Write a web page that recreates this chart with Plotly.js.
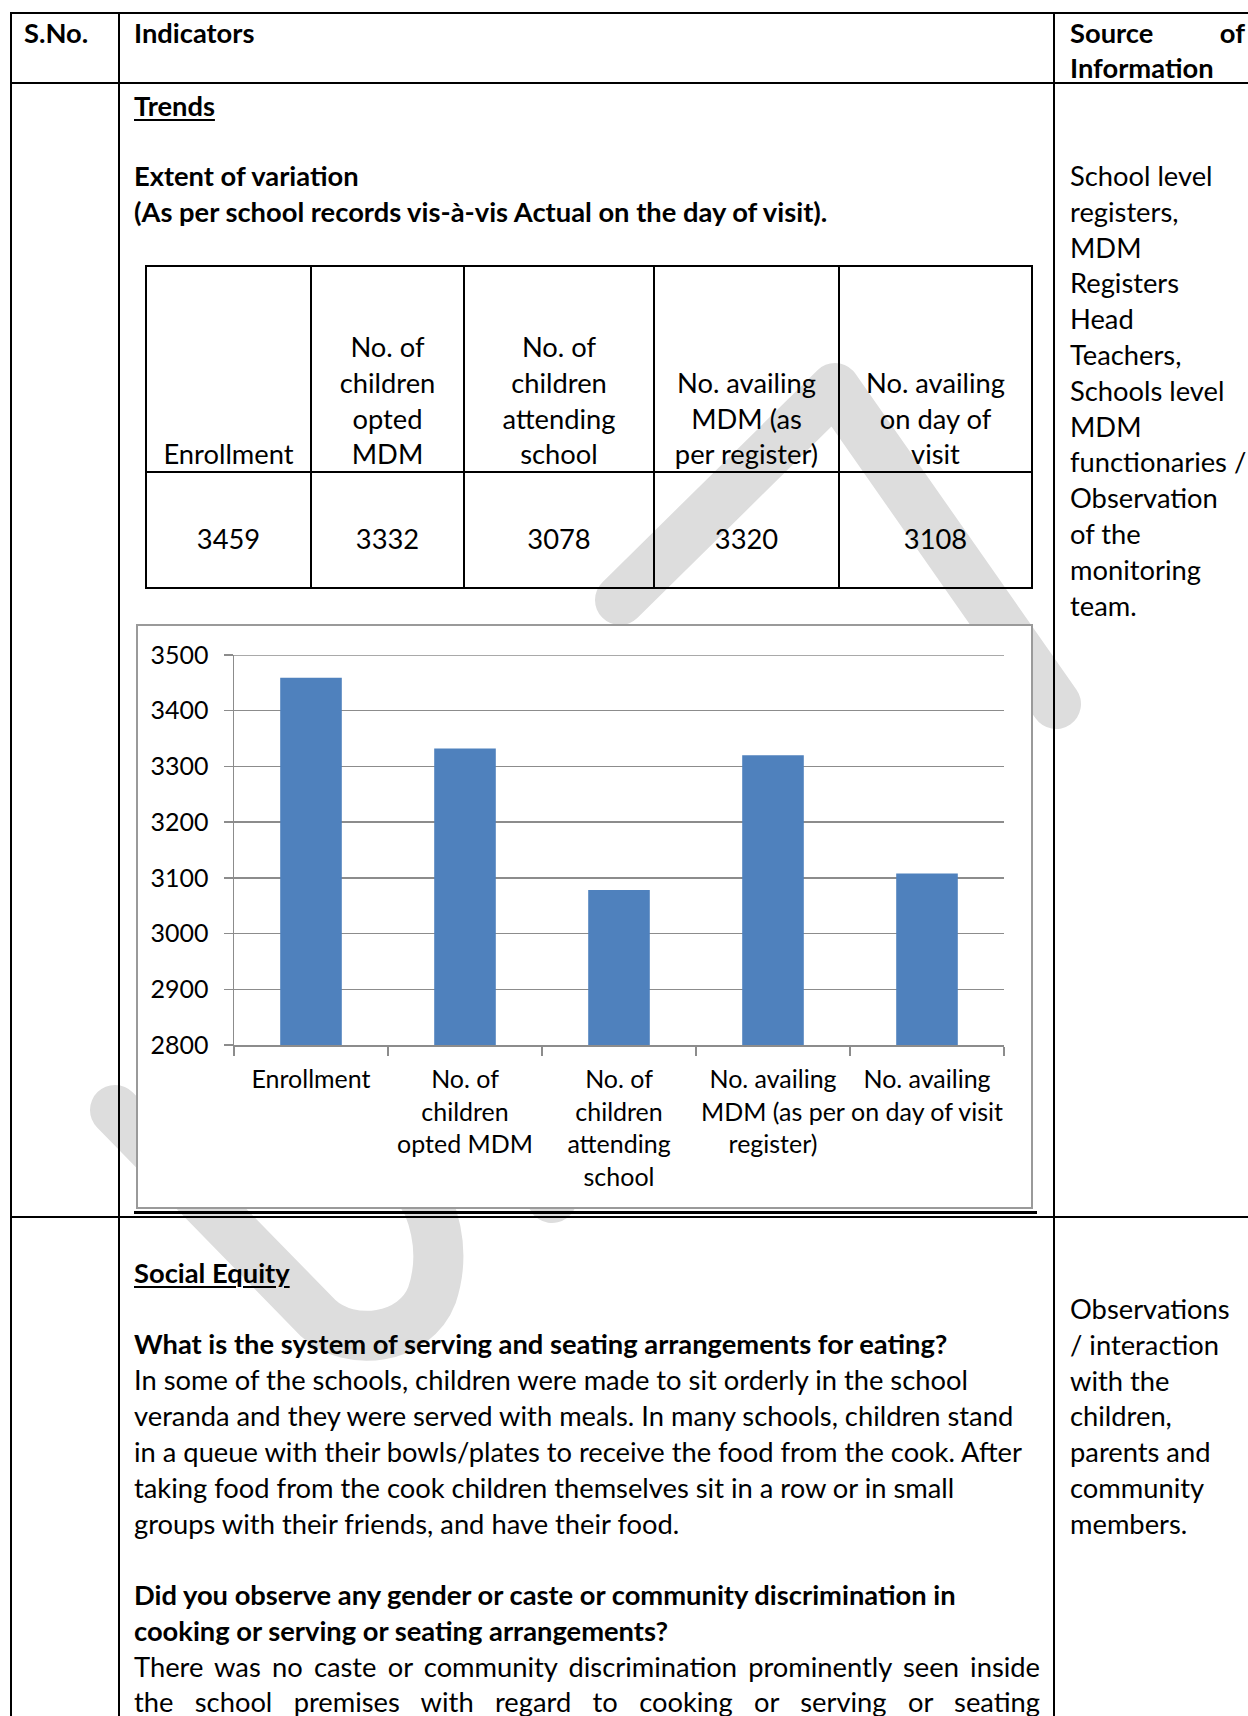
<!DOCTYPE html>
<html><head><meta charset="utf-8">
<script src="https://cdn.plot.ly/plotly-3.0.1.min.js"></script>
<style>
html,body{margin:0;padding:0;background:#fff;}
body{width:1248px;height:1716px;position:relative;overflow:hidden;font-family:Lato,"Open Sans",sans-serif;color:#000;}
.ln{position:absolute;white-space:nowrap;line-height:36px;height:36px;}
.b{font-weight:bold;}
.u{text-decoration:underline;text-decoration-thickness:2px;text-underline-offset:3px;}
.r{position:absolute;background:#000;}
#wm{position:absolute;left:0;top:0;}
#chartbox{position:absolute;left:136px;top:624px;width:897px;height:585px;box-sizing:border-box;border:2px solid #9a9a9a;background:#fff;}
</style></head><body>
<svg id="wm" width="1248" height="1716" viewBox="0 0 1248 1716">
  <g fill="none" stroke="#dddddd" stroke-width="50" stroke-linecap="round" stroke-linejoin="round">
    <path d="M 620 600 L 835 388 L 1056 704"/>
    <path d="M 115 1110 L 318 1318 C 350 1348 415 1340 432 1295 C 442 1265 440 1235 428 1205 L 410 1175"/>
    <path d="M 552 1198 L 600 1120"/>
  </g>
</svg>
<div id="chartbox"><div id="chart"></div></div>
<script>
// ---- chart data ----
const categories = ["Enrollment", "No. of<br>children<br>opted MDM", "No. of<br>children<br>attending<br>school", "No. availing<br>MDM (as per<br>register)", "No. availing<br>on day of visit"];
const values = [3459, 3332, 3078, 3320, 3108];
const tableHeaders = [["Enrollment"], ["No. of", "children", "opted", "MDM"], ["No. of", "children", "attending", "school"], ["No. availing", "MDM (as", "per register)"], ["No. availing", "on day of", "visit"]];
const yTickValues = [2800, 2900, 3000, 3100, 3200, 3300, 3400, 3500];
const yRange = [2800, 3500];

// ---- font sizing ----
const ctx = document.createElement('canvas').getContext('2d');
function mw(t, f){ ctx.font = f; return ctx.measureText(t).width; }
const FS = 100 * 836 / mw("In some of the schools, children were made to sit orderly in the school", "100px Lato");
const CF = 100 * 119 / mw("Enrollment", "100px Lato");
document.body.style.fontSize = FS.toFixed(2) + 'px';

function R(x, y, w, h){ const d = document.createElement('div'); d.className = 'r'; d.style.left = x+'px'; d.style.top = y+'px'; d.style.width = w+'px'; d.style.height = h+'px'; document.body.appendChild(d); }
function L(text, x, cy, cls, w, align){
  const d = document.createElement('div'); d.className = 'ln ' + (cls || '');
  d.textContent = text; d.style.left = x+'px'; d.style.top = (cy-18)+'px';
  if (w){ d.style.width = w+'px'; d.style.textAlign = align || 'left'; if (align === 'justify') d.style.textAlignLast = 'justify'; }
  document.body.appendChild(d);
}

// outer table lines
R(10, 12, 1238, 2);
R(10, 12, 2, 1704);
R(118, 12, 2, 1704);
R(1053, 12, 2, 1704);
R(10, 82, 1238, 2);
R(10, 1216, 1238, 2);
R(134, 1211, 903, 3);

// header row
L("S.No.", 24, 33, 'b');
L("Indicators", 134, 33, 'b');
L("Source of", 1070, 33, 'b', 175, 'justify');
L("Information", 1070, 68, 'b');

// trends block
L("Trends", 134, 106, 'b u');
L("Extent of variation", 134, 176, 'b');
L("(As per school records vis-à-vis Actual on the day of visit).", 134, 212, 'b');
const src1 = ["School level", "registers,", "MDM", "Registers", "Head", "Teachers,", "Schools level", "MDM", "functionaries /", "Observation", "of the", "monitoring", "team."];
src1.forEach((t, i) => L(t, 1070, 176 + i*35.8));

// inner table
const cellX = [146, 311, 464, 654, 839, 1032];
R(146, 265, 886, 2); R(146, 471, 886, 2); R(146, 587, 886, 2);
cellX.forEach(x => R(x-1, 265, 2, 324));
const hdrCY = [347, 383, 419, 454];
tableHeaders.forEach((lines, c) => {
  const off = 4 - lines.length;
  lines.forEach((t, i) => L(t, cellX[c], hdrCY[off+i], '', cellX[c+1]-cellX[c], 'center'));
  L(String(values[c]), cellX[c], 539, '', cellX[c+1]-cellX[c], 'center');
});

// social equity block
L("Social Equity", 134, 1273, 'b u');
L("What is the system of serving and seating arrangements for eating?", 134, 1344, 'b');
const p1 = ["In some of the schools, children were made to sit orderly in the school",
  "veranda and they were served with meals. In many schools, children stand",
  "in a queue with their bowls/plates to receive the food from the cook. After",
  "taking food from the cook children themselves sit in a row or in small",
  "groups with their friends, and have their food."];
p1.forEach((t, i) => L(t, 134, 1380 + i*36));
L("Did you observe any gender or caste or community discrimination in", 134, 1595, 'b');
L("cooking or serving or seating arrangements?", 134, 1631, 'b');
L("There was no caste or community discrimination prominently seen inside", 134, 1667, '', 906, 'justify');
L("the school premises with regard to cooking or serving or seating", 134, 1702, '', 906, 'justify');
const src2 = ["Observations", "/ interaction", "with the", "children,", "parents and", "community", "members."];
src2.forEach((t, i) => L(t, 1070, 1309 + i*35.8));

// ---- chart ----
const gray = '#8c8c8c';
const topGrid = yTickValues[yTickValues.length - 1];
Plotly.newPlot('chart', [{
  type: 'bar', x: categories, y: values,
  marker: {color: '#4F81BD', line: {width: 0}},
  hoverinfo: 'skip'
}], {
  width: 893, height: 581,
  margin: {l: 96, r: 27, t: 29, b: 162, pad: 0},
  paper_bgcolor: '#fff', plot_bgcolor: '#fff',
  font: {family: 'Lato, sans-serif', size: CF, color: '#000'},
  bargap: 0.6, showlegend: false,
  shapes: [{type: 'line', layer: 'below', xref: 'paper', x0: 0, x1: 1, yref: 'y', y0: topGrid, y1: topGrid,
    line: {color: gray, width: 1.5}}],
  xaxis: {type: 'category', showline: true, linecolor: gray, linewidth: 1.5,
    ticks: 'outside', tickson: 'boundaries', ticklen: 9, tickcolor: gray, tickwidth: 1.5,
    showgrid: false, tickangle: 0, automargin: false, ticklabelstandoff: 12,
    tickfont: {family: 'Lato, sans-serif', size: CF, color: '#000'}},
  yaxis: {range: yRange, tickmode: 'array', tickvals: yTickValues, ticktext: yTickValues.map(String),
    showgrid: true, gridcolor: gray, gridwidth: 1.5, zeroline: false,
    showline: true, linecolor: gray, linewidth: 1.5,
    ticks: 'outside', ticklen: 9, tickcolor: gray, tickwidth: 1.5, automargin: false,
    ticklabelstandoff: 10,
    tickfont: {family: 'Lato, sans-serif', size: CF, color: '#000'}}
}, {staticPlot: true, displayModeBar: false});
</script>
</body></html>
